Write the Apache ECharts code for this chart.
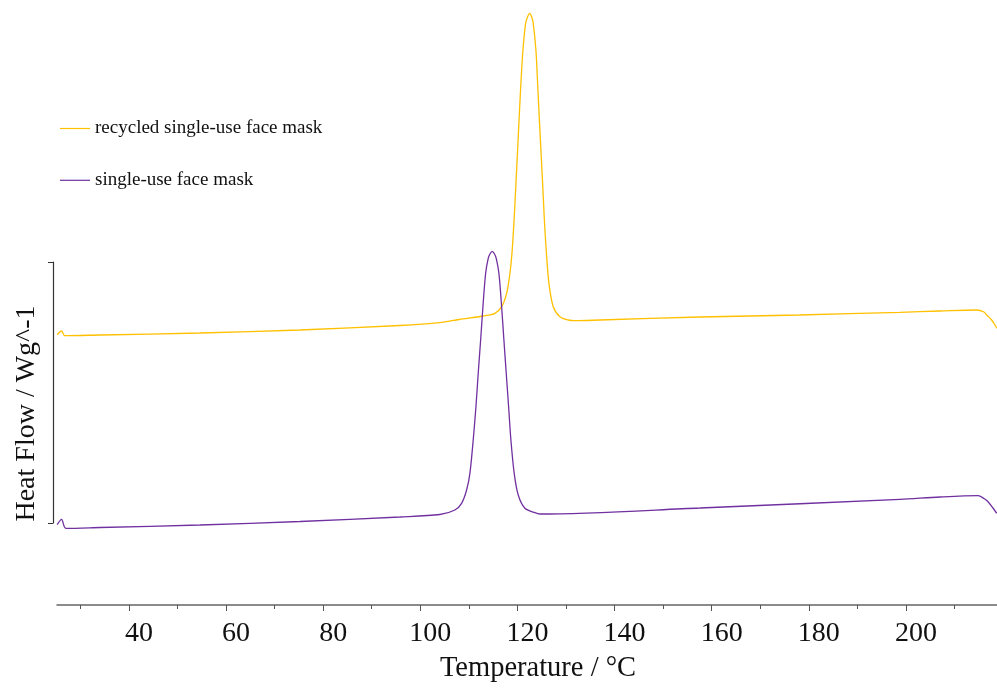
<!DOCTYPE html>
<html>
<head>
<meta charset="utf-8">
<script src="https://cdn.jsdelivr.net/npm/echarts@6/dist/echarts.min.js"></script>
<style>
  html, body { margin: 0; padding: 0; background: #fff; }
  #chart { width: 997px; height: 688px; }
</style>
</head>
<body>
<div id="chart"></div>
<script>
// DSC curves (temperature in °C, heat flow in arbitrary units)
const recycledTemp = [25.24, 26.14, 26.82, 34.03, 54.6, 75.2, 95.8, 104.0, 108.0, 112.9, 115.37, 116.75, 117.78,
  118.46, 118.93, 119.35, 119.70, 120.04, 120.37, 120.72, 121.14, 121.69, 122.10, 122.52, 122.93, 123.26, 123.81,
  124.16, 124.49, 124.84, 125.19, 125.52, 125.93, 126.49, 127.38, 128.76, 130.47, 131.85, 137.0, 157.6, 178.0,
  198.77, 207.0, 214.57, 216.07, 216.62, 217.65, 218.33, 218.69];
const recycledFlow = [2.703, 2.74, 2.693, 2.70, 2.72, 2.75, 2.795, 2.823, 2.855, 2.89, 2.917, 2.983, 3.117,
  3.317, 3.55, 3.883, 4.217, 4.55, 4.883, 5.217, 5.55, 5.817, 5.883, 5.917, 5.883, 5.817, 5.55,
  5.217, 4.883, 4.55, 4.217, 3.883, 3.55, 3.217, 2.983, 2.883, 2.85, 2.843, 2.85, 2.88, 2.90,
  2.927, 2.94, 2.95, 2.93, 2.90, 2.85, 2.80, 2.767];

const maskTemp = [25.24, 26.14, 27.03, 34.03, 54.62, 75.21, 95.81, 104.04, 107.13, 108.51, 109.54, 110.22, 110.90,
  111.46, 111.93, 112.43, 112.90, 113.46, 113.99, 114.40, 114.82, 115.23, 115.64, 116.19, 116.75, 117.22, 117.70,
  118.19, 118.66, 119.34, 120.17, 121.55, 123.61, 124.64, 157.59, 198.77, 207.0, 214.84, 216.07, 216.9, 217.92,
  218.69];
const maskFlow = [0.803, 0.857, 0.767, 0.775, 0.80, 0.835, 0.88, 0.905, 0.95, 1.017, 1.15, 1.317, 1.65,
  1.983, 2.317, 2.65, 2.983, 3.317, 3.467, 3.515, 3.533, 3.515, 3.467, 3.317, 2.983, 2.65, 2.317,
  1.983, 1.65, 1.317, 1.10, 0.967, 0.923, 0.91, 0.97, 1.057, 1.08, 1.093, 1.065, 1.033, 0.97,
  0.917];

const seriesNames = ['recycled single-use face mask', 'single-use face mask'];
const majorTicks = [40, 60, 80, 100, 120, 140, 160, 180, 200];
const minorTicks = [30, 50, 70, 90, 110, 130, 150, 170, 190, 210];

const pairs = (xs, ys) => xs.map((x, i) => [x, ys[i]]);
const serif = 'Liberation Serif';

const chart = echarts.init(document.getElementById('chart'));
chart.setOption({
  animation: false,
  backgroundColor: '#fff',
  legend: {
    orient: 'vertical',
    left: 60, top: 119, padding: 0,
    icon: 'rect', itemWidth: 30, itemHeight: 1.2, itemGap: 32.8,
    textStyle: { fontFamily: serif, fontSize: 19, color: '#111' },
    data: seriesNames
  },
  grid: [
    { left: 57, right: 0, top: 0, bottom: 83 },
    { left: 53, width: 10, top: 262, bottom: 165 }
  ],
  xAxis: [
    {
      type: 'value', gridIndex: 0, min: 25.2, max: 218.75, position: 'bottom',
      axisLine: { lineStyle: { color: '#666', width: 1.5 } },
      axisTick: { customValues: majorTicks, length: 6, lineStyle: { color: '#555' } },
      axisLabel: { customValues: majorTicks, fontFamily: serif, fontSize: 28, color: '#111', margin: 15, padding: [0, 0, 0, 20] },
      splitLine: { show: false },
      name: 'Temperature / °C', nameLocation: 'middle', nameGap: 49,
      nameTextStyle: { fontFamily: serif, fontSize: 28.5, color: '#111', padding: [0, 0, 0, 22] }
    },
    {
      type: 'value', gridIndex: 0, min: 25.2, max: 218.75, position: 'bottom',
      axisLine: { show: false },
      axisTick: { customValues: minorTicks, length: 4, lineStyle: { color: '#555' } },
      axisLabel: { show: false },
      splitLine: { show: false }
    },
    { type: 'value', gridIndex: 1, min: 0, max: 1, show: false }
  ],
  yAxis: [
    { type: 'value', gridIndex: 0, min: 0, max: 6.05, show: false },
    {
      type: 'value', gridIndex: 1, min: 0, max: 1, interval: 1,
      axisLine: { show: true, lineStyle: { color: '#333', width: 1.2 } },
      axisTick: { show: true, length: 5, lineStyle: { color: '#333' } },
      axisLabel: { show: false },
      splitLine: { show: false },
      name: 'Heat Flow / Wg^-1', nameLocation: 'middle', nameGap: 12,
      nameTextStyle: { fontFamily: serif, fontSize: 28, color: '#111', padding: [0, 42, 0, 0] }
    }
  ],
  series: [
    {
      name: seriesNames[0], type: 'line', xAxisIndex: 0, yAxisIndex: 0,
      data: pairs(recycledTemp, recycledFlow),
      symbol: 'none', smooth: 0.3,
      lineStyle: { color: '#FFC000', width: 1.3 }, itemStyle: { color: '#FFC000' }
    },
    {
      name: seriesNames[1], type: 'line', xAxisIndex: 0, yAxisIndex: 0,
      data: pairs(maskTemp, maskFlow),
      symbol: 'none', smooth: 0.3,
      lineStyle: { color: '#7030A0', width: 1.3 }, itemStyle: { color: '#7030A0' }
    }
  ]
});
</script>
</body>
</html>
